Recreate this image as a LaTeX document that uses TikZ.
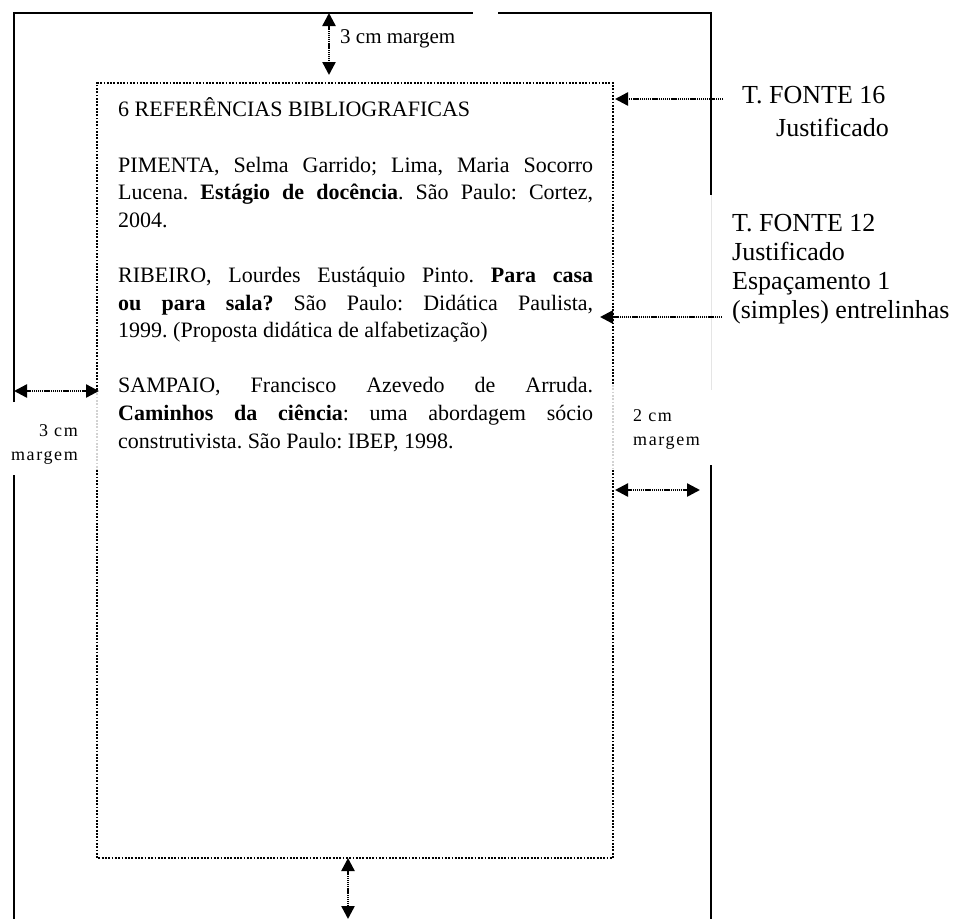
\documentclass[tikz,border=0pt]{standalone}
\usepackage{fontspec}
\setmainfont{Liberation Serif}
\newfontfamily\espfont[LetterSpace=9]{Liberation Serif}
\usetikzlibrary{arrows.meta}
\frenchspacing

% linha justificada a largura total
\newcommand{\jl}[1]{\makebox[475pt][s]{#1}}

\begin{document}
\begin{tikzpicture}[x=1pt,y=-1pt,
  >={Triangle[width=13pt,length=13pt]},
  pagina/.style={line width=2pt},
  caixa/.style={line width=1.8pt,dash pattern=on 1.8pt off 1.5pt},
  seta/.style={line width=2.4pt,dash pattern=on 1.2pt off 0.7pt,->},
  setadupla/.style={seta,<->},
  texto/.style={inner sep=0pt,align=left,font=\fontsize{22}{27.6}\selectfont},
  rotulo/.style={inner sep=0pt,font=\fontsize{26}{28.7}\selectfont},
  margem/.style={inner sep=0pt,font=\espfont\fontsize{18}{24}\selectfont}]

\useasboundingbox (0,0) rectangle (957,919);

% folha
\draw[pagina] (14,402) -- (14,13) -- (473,13);
\draw[pagina] (498,13) -- (711,13) -- (711,195);
\draw[pagina] (14,475) -- (14,919);
\draw[pagina] (711,465) -- (711,919);
\draw[gray!20,line width=0.8pt] (711,195) -- (711,390);

% area de texto
\draw[caixa] (97,390) -- (97,83) -- (613,83) -- (613,385);
\draw[caixa] (97,470) -- (97,858) -- (613,858) -- (613,470);
\draw[caixa,gray!35] (97,390) -- (97,470) (613,385) -- (613,470);

% (ancora na linha de base da ultima linha)
\node[texto,anchor=base west] (refs) at (118,448) {%
6 REFERÊNCIAS BIBLIOGRAFICAS\\[27.6pt]
\jl{PIMENTA, Selma Garrido; Lima, Maria Socorro}\\
\jl{Lucena. \textbf{Estágio de docência}. São Paulo: Cortez,}\\
2004.\\[27.6pt]
\jl{RIBEIRO, Lourdes Eustáquio Pinto. \textbf{Para casa}}\\
\jl{\textbf{ou para sala?} São Paulo: Didática Paulista,}\\
1999. (Proposta didática de alfabetização)\\[27.6pt]
\jl{SAMPAIO, Francisco Azevedo de Arruda.}\\
\jl{\textbf{Caminhos da ciência}: uma abordagem sócio}\\
construtivista. São Paulo: IBEP, 1998.};

% rotulos
\node[rotulo,anchor=base west,align=left] (fonte16) at (742,136)
  {T. FONTE 16\\[4pt]\hspace*{34pt}Justificado};
\node[rotulo,anchor=base west,align=left] (fonte12) at (732,318)
  {T. FONTE 12\\Justificado\\Espaçamento 1\\(simples) entrelinhas};
\node[inner sep=0pt,anchor=base west,font=\fontsize{21}{24}\selectfont] (mtopo) at (340,43) {3 cm margem};
\node[margem,anchor=base east,align=right] (mesq) at (78,460) {3 cm\\margem};
\node[margem,anchor=base west,align=left] (mdir) at (633,445) {2 cm\\margem};

% setas
\coordinate (topo1) at (329,13);
\coordinate (topo2) at (329,75);
\coordinate (base1) at (348,858);
\coordinate (base2) at (348,919);
\coordinate (esq1) at (14,391);
\coordinate (esq2) at (99,391);
\coordinate (dir1) at (615,490);
\coordinate (dir2) at (700,490);
\coordinate (f16a) at (723,99);
\coordinate (f16b) at (615,99);
\coordinate (f12a) at (722,317);
\coordinate (f12b) at (600,317);

\draw[setadupla] (topo1) -- (topo2);
\draw[setadupla] (base1) -- (base2);
\draw[setadupla] (esq1) -- (esq2);
\draw[setadupla] (dir1) -- (dir2);
\draw[seta] (f16a) -- (f16b);
\draw[seta] (f12a) -- (f12b);

\end{tikzpicture}
\end{document}
